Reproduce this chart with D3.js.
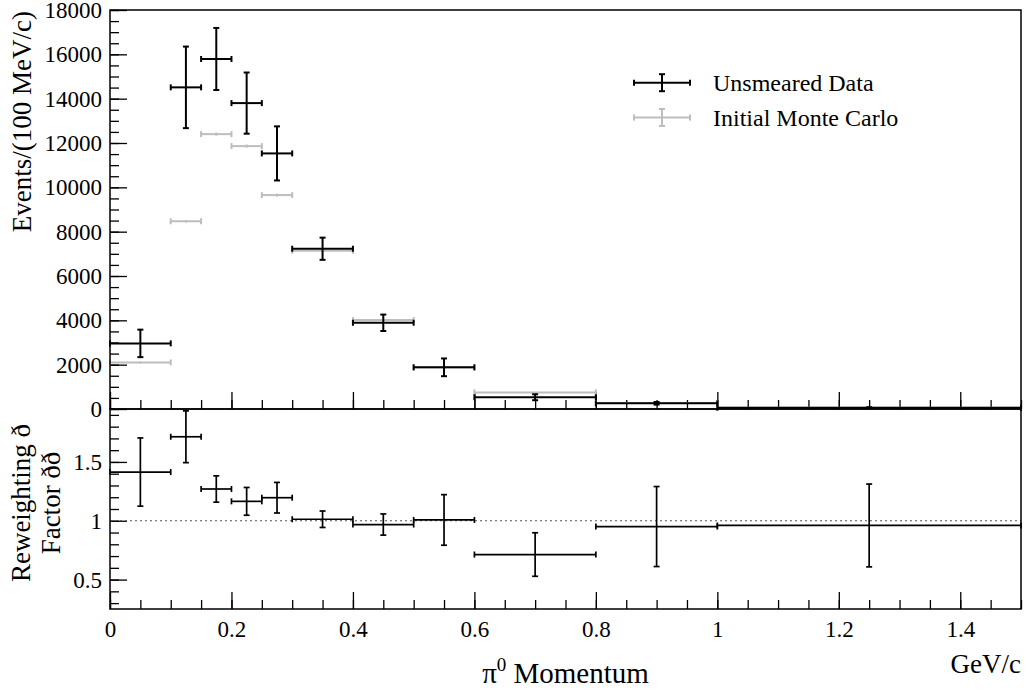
<!DOCTYPE html>
<html><head><meta charset="utf-8">
<script src="https://cdn.jsdelivr.net/npm/d3@7"></script>
<style>body{margin:0;background:#fff}svg{display:block}</style>
</head><body><svg id="c" width="1026" height="694"></svg>
<script>
// ---- data ----
const binLo = [0, 0.1, 0.15, 0.2, 0.25, 0.3, 0.4, 0.5, 0.6, 0.8, 1.0];
const binHi = [0.1, 0.15, 0.2, 0.25, 0.3, 0.4, 0.5, 0.6, 0.8, 1.0, 1.5];
const dataVals = [2960, 14510, 15790, 13800, 11530, 7230, 3890, 1880, 530, 257, 60];
const dataErrs = [620, 1840, 1400, 1380, 1220, 500, 370, 400, 135, 60, 20];
const mcVals = [2100, 8470, 12400, 11860, 9650, 7140, 4010, 1870, 750, 270, 62];
const mcErrs = [45, 60, 70, 70, 65, 55, 40, 25, 12, 7, 3];
const ratioVals = [1.414, 1.714, 1.27, 1.165, 1.196, 1.013, 0.968, 1.007, 0.713, 0.951, 0.96];
const ratioErrs = [0.29, 0.22, 0.112, 0.118, 0.13, 0.07, 0.09, 0.215, 0.185, 0.34, 0.352];
const xTickVals = [0, 0.2, 0.4, 0.6, 0.8, 1.0, 1.2, 1.4];
const xTickLabels = ["0", "0.2", "0.4", "0.6", "0.8", "1", "1.2", "1.4"];
const yTopTicks = [0, 2000, 4000, 6000, 8000, 10000, 12000, 14000, 16000, 18000];
const yBotTicks = [0.5, 1, 1.5];
const yBotTickLabels = ["0.5", "1", "1.5"];
const legendLabels = ["Unsmeared Data", "Initial Monte Carlo"];

// ---- layout ----
const L = 110, R = 1021, T = 10, MID = 409, B = 609;
const BLACK = "#000", GREY = "#bdbdbd";
const FAM = '"Liberation Serif"';

const svg = d3.select("#c");
const x = d3.scaleLinear().domain([0, 1.5]).range([L, R]);
const yT = d3.scaleLinear().domain([0, 18000]).range([MID, T]);
const yB = d3.scaleLinear().domain([0.25, 1.95]).range([B, MID]);

const bins = binLo.map((lo, i) => ({lo, hi: binHi[i], c: (lo + binHi[i]) / 2,
  d: dataVals[i], de: dataErrs[i], m: mcVals[i], me: mcErrs[i], r: ratioVals[i], re: ratioErrs[i]}));

function styleAxis(g, fs) {
  g.attr("font-family", null).attr("font-size", null);
  g.select(".domain").remove();
  g.selectAll("line").attr("stroke", "#000").attr("stroke-width", 1.3);
  g.selectAll("text").style("font-size", fs + "px").attr("fill", "#000");
}

// ---- upper panel axes ----
svg.append("g").attr("transform", `translate(${L},0)`)
  .call(d3.axisLeft(yT).tickValues(d3.range(0, 18001, 500)).tickSize(-9).tickFormat(""))
  .call(g => styleAxis(g, 23));
svg.append("g").attr("transform", `translate(${L},0)`)
  .call(d3.axisLeft(yT).tickValues(yTopTicks).tickSize(-17).tickPadding(8).tickFormat(d3.format("d")))
  .call(g => styleAxis(g, 23))
  .call(g => g.selectAll("text").attr("dy", "0.33em"));
svg.append("g").attr("transform", `translate(0,${MID})`)
  .call(d3.axisBottom(x).tickValues(d3.range(0, 1.5001, 0.05)).tickSize(-9).tickFormat(""))
  .call(g => styleAxis(g, 23));
svg.append("g").attr("transform", `translate(0,${MID})`)
  .call(d3.axisBottom(x).tickValues(xTickVals).tickSize(-17).tickFormat(""))
  .call(g => styleAxis(g, 23));

// ---- lower panel axes ----
svg.append("g").attr("transform", `translate(${L},0)`)
  .call(d3.axisLeft(yB).tickValues(d3.range(3, 20).map(v => v / 10)).tickSize(-9).tickFormat(""))
  .call(g => styleAxis(g, 23));
svg.append("g").attr("transform", `translate(${L},0)`)
  .call(d3.axisLeft(yB).tickValues(yBotTicks).tickSize(-17).tickPadding(8).tickFormat((d, i) => yBotTickLabels[i]))
  .call(g => styleAxis(g, 23))
  .call(g => g.selectAll("text").attr("dy", "0.33em"));
svg.append("g").attr("transform", `translate(0,${B})`)
  .call(d3.axisBottom(x).tickValues(d3.range(0, 1.5001, 0.05)).tickSize(-9).tickFormat(""))
  .call(g => styleAxis(g, 23));
svg.append("g").attr("transform", `translate(0,${B})`)
  .call(d3.axisBottom(x).tickValues(xTickVals).tickSize(-17).tickPadding(12).tickFormat((d, i) => xTickLabels[i]))
  .call(g => styleAxis(g, 23));

// ---- reference line at 1 ----
svg.append("line").attr("x1", L).attr("x2", R).attr("y1", yB(1)).attr("y2", yB(1))
  .attr("stroke", "#555").attr("stroke-width", 1).attr("stroke-dasharray", "2,3");

// ---- error-bar drawing ----
function errBars(g, data, ys, valKey, errKey, color, sw, vcap) {
  const cap = 3;
  const grp = g.selectAll(null).data(data).enter().append("g")
    .attr("stroke", color).attr("stroke-width", sw).attr("fill", "none");
  grp.append("line").attr("x1", d => x(d.lo)).attr("x2", d => x(d.hi))
    .attr("y1", d => ys(d[valKey])).attr("y2", d => ys(d[valKey]));
  grp.append("line").attr("x1", d => x(d.lo)).attr("x2", d => x(d.lo))
    .attr("y1", d => ys(d[valKey]) - cap).attr("y2", d => ys(d[valKey]) + cap);
  grp.append("line").attr("x1", d => x(d.hi)).attr("x2", d => x(d.hi))
    .attr("y1", d => ys(d[valKey]) - cap).attr("y2", d => ys(d[valKey]) + cap);
  grp.append("line").attr("x1", d => x(d.c)).attr("x2", d => x(d.c))
    .attr("y1", d => ys(d[valKey] - d[errKey])).attr("y2", d => ys(d[valKey] + d[errKey]));
  if (vcap) {
    grp.append("line").attr("x1", d => x(d.c) - cap).attr("x2", d => x(d.c) + cap)
      .attr("y1", d => ys(d[valKey] + d[errKey])).attr("y2", d => ys(d[valKey] + d[errKey]));
    grp.append("line").attr("x1", d => x(d.c) - cap).attr("x2", d => x(d.c) + cap)
      .attr("y1", d => ys(d[valKey] - d[errKey])).attr("y2", d => ys(d[valKey] - d[errKey]));
  }
}
const marks = svg.append("g");
errBars(marks, bins, yT, "m", "me", GREY, 2, false);
errBars(marks, bins, yT, "d", "de", BLACK, 2, true);
errBars(marks, bins, yB, "r", "re", BLACK, 1.7, true);

// ---- frames ----
svg.append("rect").attr("x", L).attr("y", T).attr("width", R - L).attr("height", MID - T)
  .attr("fill", "none").attr("stroke", "#000").attr("stroke-width", 1.5);
svg.append("rect").attr("x", L).attr("y", MID).attr("width", R - L).attr("height", B - MID)
  .attr("fill", "none").attr("stroke", "#000").attr("stroke-width", 1.5);

// ---- legend ----
const legColors = [BLACK, GREY];
const legY = [82.7, 117.5];
legendLabels.forEach((lab, i) => {
  const g = svg.append("g").attr("stroke", legColors[i]).attr("stroke-width", 2);
  const cy = legY[i], x1 = 634, x2 = 690, cx = 662;
  g.append("line").attr("x1", x1).attr("x2", x2).attr("y1", cy).attr("y2", cy);
  g.append("line").attr("x1", x1).attr("x2", x1).attr("y1", cy - 3).attr("y2", cy + 3);
  g.append("line").attr("x1", x2).attr("x2", x2).attr("y1", cy - 3).attr("y2", cy + 3);
  g.append("line").attr("x1", cx).attr("x2", cx).attr("y1", cy - 8.5).attr("y2", cy + 8.5);
  g.append("line").attr("x1", cx - 3).attr("x2", cx + 3).attr("y1", cy - 8.5).attr("y2", cy - 8.5);
  g.append("line").attr("x1", cx - 3).attr("x2", cx + 3).attr("y1", cy + 8.5).attr("y2", cy + 8.5);
  svg.append("text").attr("x", 713).attr("y", cy + 8).style("font-size", "24px").text(lab);
});

// ---- axis titles ----
svg.append("text").attr("transform", `translate(31,${T + 1}) rotate(-90)`)
  .attr("text-anchor", "end").style("font-size", "27px")
  .text("Events/(100 MeV/c)");
svg.append("text").attr("transform", `translate(30,503) rotate(-90)`)
  .attr("text-anchor", "middle").style("font-size", "27px")
  .text("Reweighting ð");
svg.append("text").attr("transform", `translate(60,503) rotate(-90)`)
  .attr("text-anchor", "middle").style("font-size", "27px")
  .text("Factor ðð");
const xt = svg.append("text").attr("x", (L + R) / 2).attr("y", 682.5).attr("text-anchor", "middle")
  .style("font-size", "29px");
xt.append("tspan").text("π");
xt.append("tspan").style("font-size", "19px").attr("dy", -12).text("0");
xt.append("tspan").attr("dy", 12).text(" Momentum");
svg.append("text").attr("x", R).attr("y", 673).attr("text-anchor", "end")
  .style("font-size", "27px").text("GeV/c");

// apply the serif face to every text
svg.selectAll("text").style("font-family", FAM);
</script></body></html>
